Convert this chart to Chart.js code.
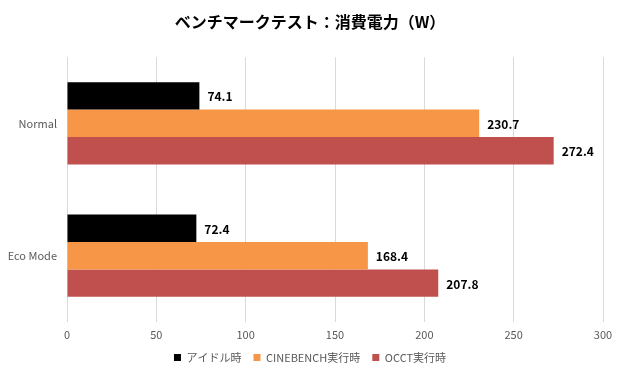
<!DOCTYPE html>
<html><head><meta charset="utf-8">
<script src="https://cdn.jsdelivr.net/npm/chart.js@4/dist/chart.umd.min.js"></script>
<style>html,body{margin:0;padding:0;background:#fff;}#wrap{width:620px;height:375px;}</style>
</head><body><div id="wrap"><canvas id="c" width="620" height="375"></canvas></div>
<script>
const categories = ["Normal", "Eco Mode"];
const seriesNames = ["アイドル時", "CINEBENCH実行時", "OCCT実行時"];
const idle = [74.1, 72.4];
const cinebench = [230.7, 168.4];
const occt = [272.4, 207.8];
const colors = ["#000000", "#F79646", "#C0504D"];
const title = "ベンチマークテスト：消費電力（W）";
const FONT = "'Noto Sans CJK JP', 'Noto Sans', sans-serif";

const labelPlugin = {
  id: 'vlabels',
  afterDatasetsDraw(chart) {
    const ctx = chart.ctx;
    ctx.save();
    ctx.font = "bold 12px " + FONT;
    ctx.fillStyle = "#000";
    ctx.textBaseline = "middle";
    ctx.textAlign = "left";
    chart.data.datasets.forEach((ds, i) => {
      chart.getDatasetMeta(i).data.forEach((bar, j) => {
        ctx.fillText(ds.data[j].toFixed(1), bar.x + 8, bar.y + 1);
      });
    });
    ctx.restore();
  }
};

new Chart(document.getElementById('c'), {
  type: 'bar',
  data: {
    labels: categories,
    datasets: [
      { label: seriesNames[0], data: idle, backgroundColor: colors[0] },
      { label: seriesNames[1], data: cinebench, backgroundColor: colors[1] },
      { label: seriesNames[2], data: occt, backgroundColor: colors[2] }
    ]
  },
  options: {
    indexAxis: 'y',
    responsive: false,
    animation: false,
    devicePixelRatio: 1,
    layout: { padding: { left: 0, right: 0, top: 4, bottom: 2 } },
    datasets: { bar: { barPercentage: 1.0, categoryPercentage: 0.623 } },
    scales: {
      x: {
        min: 0, max: 300,
        afterFit(scale) { scale.height -= 7; },
        ticks: { stepSize: 50, color: '#595959', font: { family: FONT, size: 11 }, padding: 6 },
        grid: { color: '#D9D9D9', drawTicks: false },
        border: { display: false }
      },
      y: {
        afterFit(scale) { scale.width = 67; },
        ticks: { color: '#595959', font: { family: FONT, size: 11 }, padding: 10 },
        grid: { display: false, drawTicks: false },
        border: { display: false }
      },
      yRight: {
        type: 'category',
        position: 'right',
        labels: categories,
        afterFit(scale) { scale.width = 17; },
        ticks: { display: false },
        grid: { display: false, drawTicks: false },
        border: { display: false }
      }
    },
    plugins: {
      title: { display: true, text: title, color: '#000', font: { family: FONT, size: 16, weight: 'bold' }, padding: { top: 8, bottom: 26 } },
      legend: {
        position: 'bottom',
        labels: { boxWidth: 7, boxHeight: 7, color: '#595959', font: { family: FONT, size: 11 }, padding: 12 }
      },
      tooltip: { enabled: false }
    }
  },
  plugins: [labelPlugin]
});
</script></body></html>
